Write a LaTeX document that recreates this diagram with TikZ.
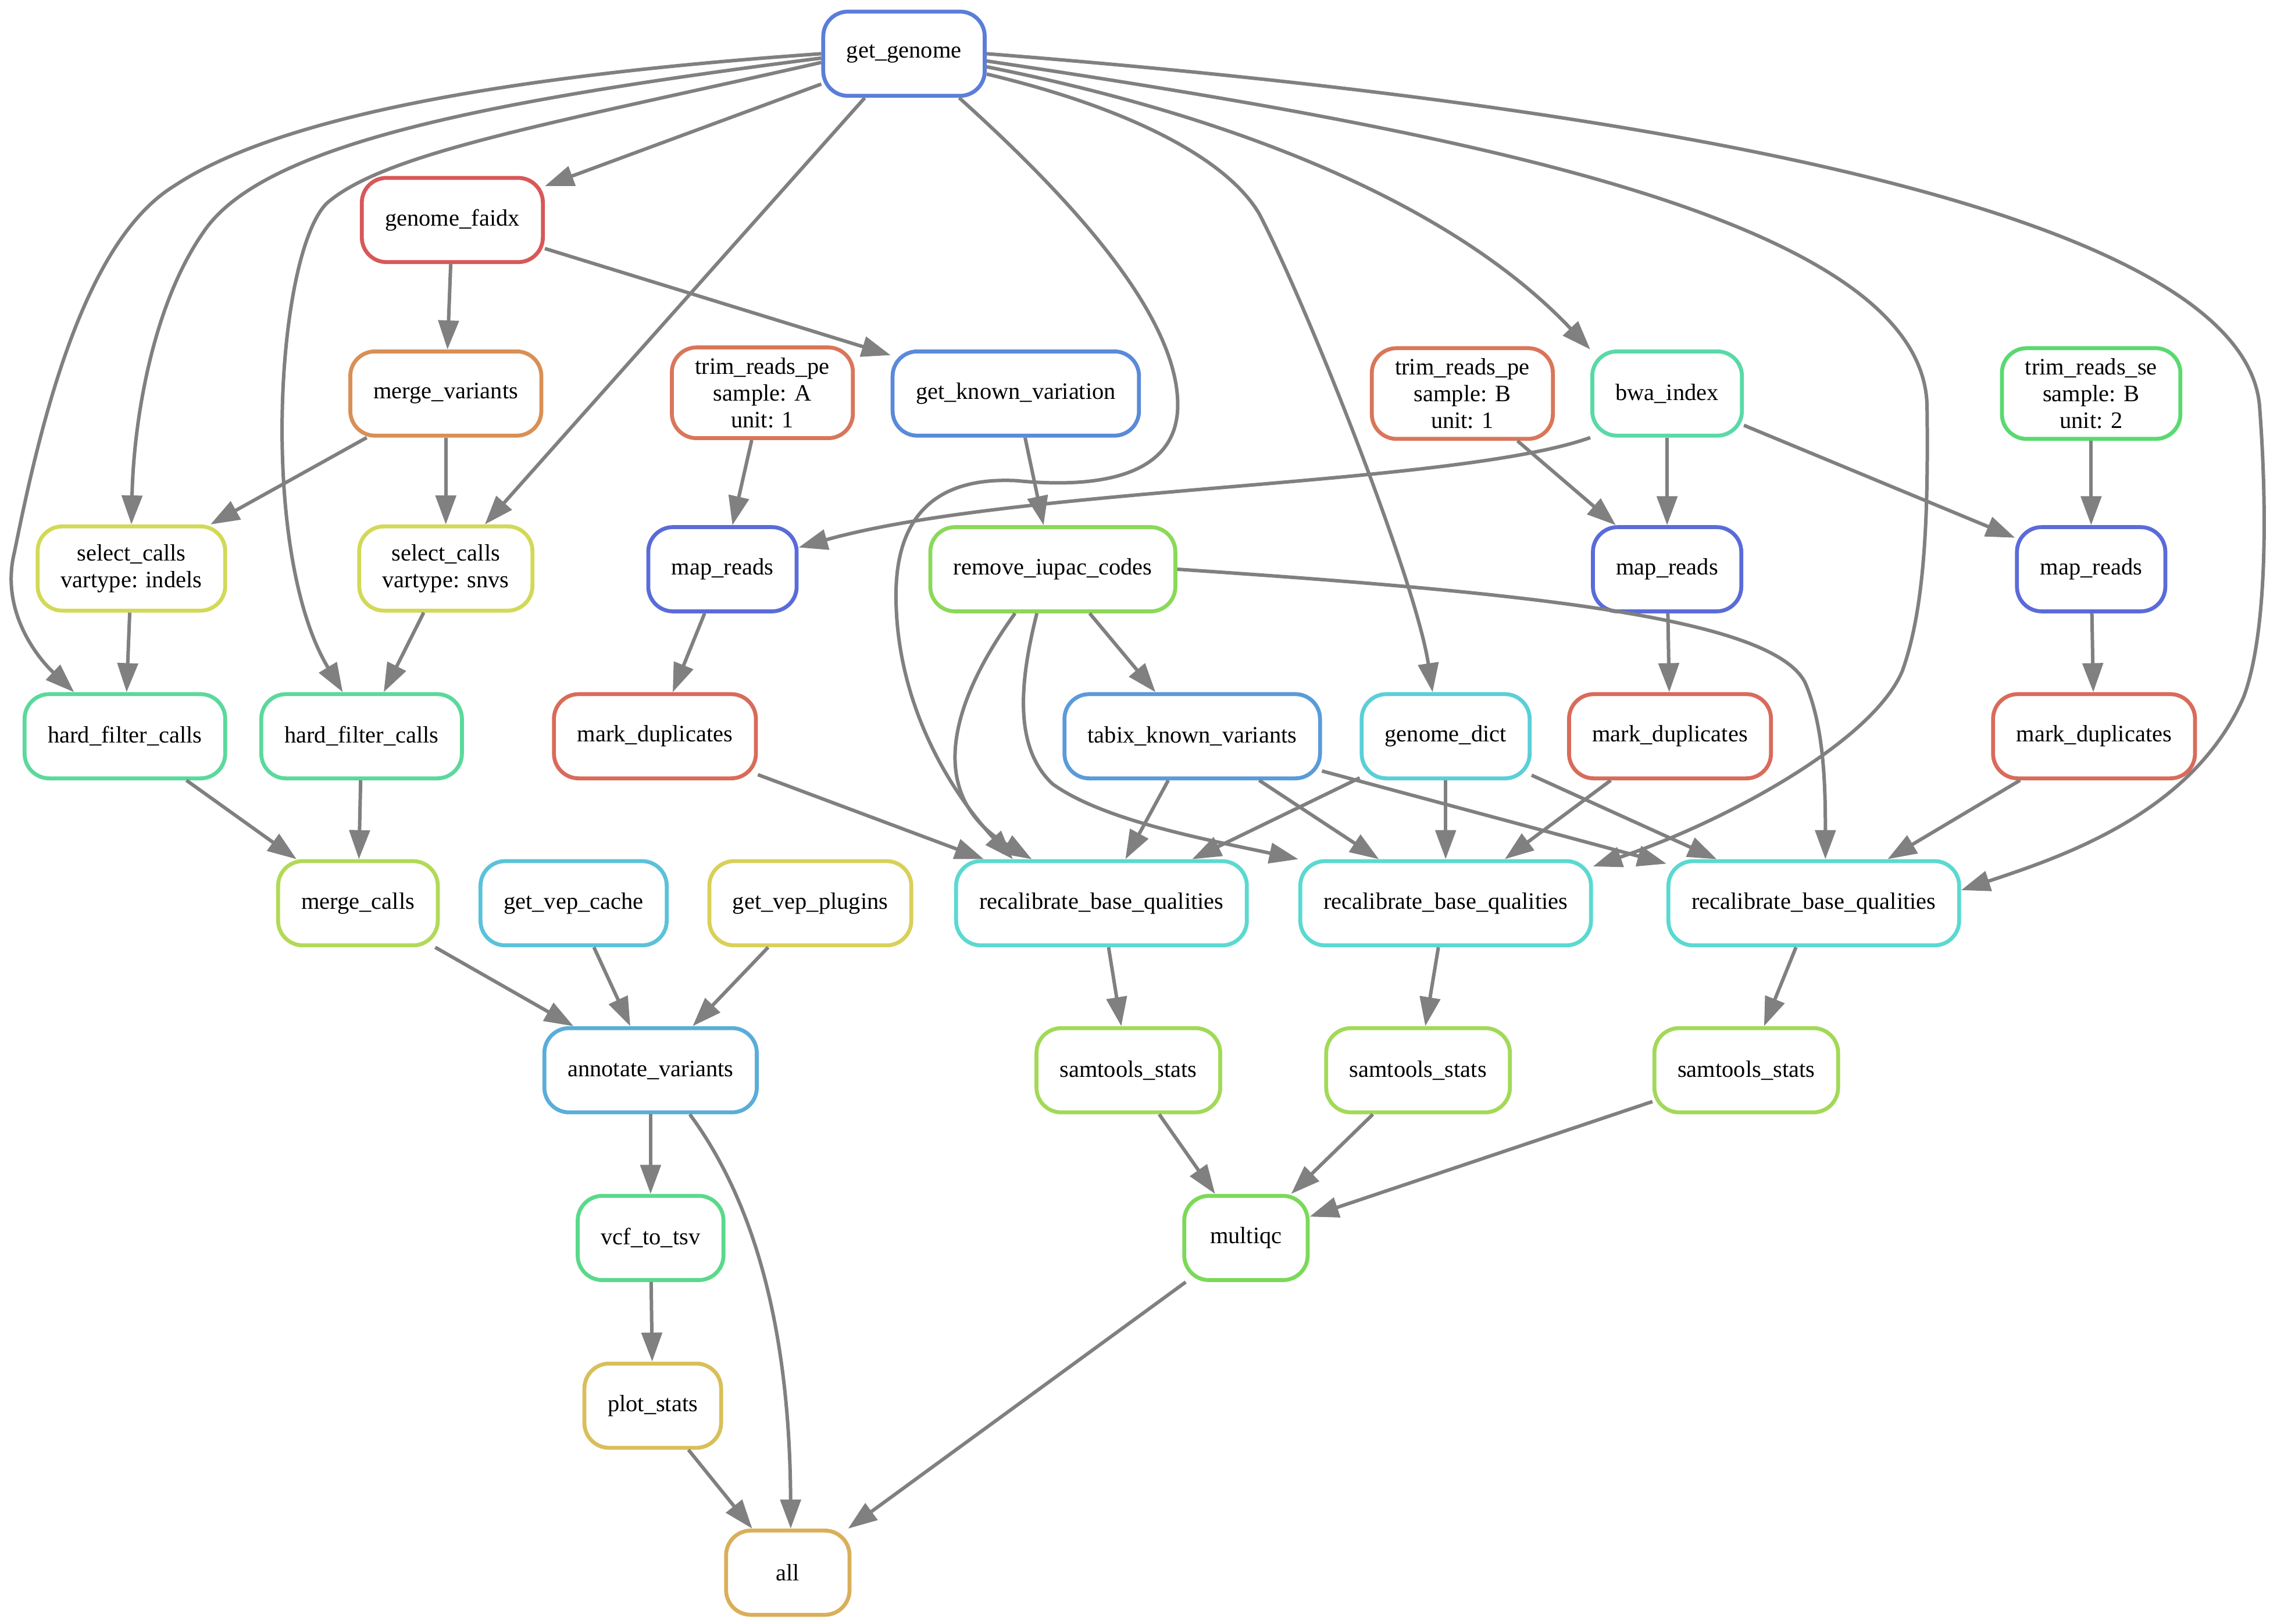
\documentclass[tikz,border=0pt]{standalone}
\usepackage{fontspec}
\setmainfont{Liberation Serif}
\usepackage{xcolor}
\usetikzlibrary{arrows.meta}
\definecolor{cgenome}{HTML}{5A7ED8}
\definecolor{cfaidx}{HTML}{D85858}
\definecolor{cmvar}{HTML}{D98F55}
\definecolor{ctrim}{HTML}{D9765A}
\definecolor{cknown}{HTML}{5A8AD9}
\definecolor{cbwa}{HTML}{5AD9A8}
\definecolor{ctrimse}{HTML}{5AD970}
\definecolor{cselect}{HTML}{D2D957}
\definecolor{cmap}{HTML}{5A6BD9}
\definecolor{ciupac}{HTML}{8AD957}
\definecolor{chard}{HTML}{5AD99C}
\definecolor{cmark}{HTML}{D96B5A}
\definecolor{ctabix}{HTML}{5A9BD9}
\definecolor{cdict}{HTML}{5ACFD9}
\definecolor{cmcalls}{HTML}{B2D957}
\definecolor{cvcache}{HTML}{5AC2D9}
\definecolor{cvplug}{HTML}{D9D05A}
\definecolor{crecal}{HTML}{5AD9D0}
\definecolor{cannot}{HTML}{5AADD9}
\definecolor{csam}{HTML}{A2D957}
\definecolor{cvcf}{HTML}{5AD98B}
\definecolor{cmqc}{HTML}{7BD957}
\definecolor{cplot}{HTML}{D9BF5A}
\definecolor{call}{HTML}{D9AF5A}
\definecolor{cgray}{HTML}{808080}

\begin{document}
\begin{tikzpicture}[x=1pt,y=-1pt,
  rulebox/.style={rectangle,rounded corners=17pt,draw,line width=2.7pt,fill=white,
              align=center,minimum height=58pt,minimum width=85pt,
              inner xsep=16pt,inner ysep=7pt,font=\fontsize{16.2}{18.5}\selectfont},
  ar/.style={-{Triangle[length=20pt,width=14pt]},line width=2.4pt,draw=cgray}]
\useasboundingbox (0,0) rectangle (1568,1118);
% rules
\node[rulebox,draw=cgenome] (gg)     at (622.5,37)  {get\_genome};
\node[rulebox,draw=cfaidx]  (faidx)  at (311.5,151.5) {genome\_faidx};
\node[rulebox,draw=cmvar]   (mvar)   at (307,271)   {merge\_variants};
\node[rulebox,draw=ctrim]   (trimA)  at (525,270.5) {trim\_reads\_pe\\sample: A\\unit: 1};
\node[rulebox,draw=cknown]  (gkv)    at (699.5,271) {get\_known\_variation};
\node[rulebox,draw=ctrim]   (trimB)  at (1007,271)  {trim\_reads\_pe\\sample: B\\unit: 1};
\node[rulebox,draw=cbwa]    (bwa)    at (1148,271)  {bwa\_index};
\node[rulebox,draw=ctrimse] (trimSE) at (1440,271)  {trim\_reads\_se\\sample: B\\unit: 2};
\node[rulebox,draw=cselect] (selI)   at (90.5,391.5) {select\_calls\\vartype: indels};
\node[rulebox,draw=cselect] (selS)   at (307,391.5) {select\_calls\\vartype: snvs};
\node[rulebox,draw=cmap]    (mapA)   at (497.5,392) {map\_reads};
\node[rulebox,draw=ciupac]  (iupac)  at (725,392)   {remove\_iupac\_codes};
\node[rulebox,draw=cmap]    (mapB)   at (1148,392)  {map\_reads};
\node[rulebox,draw=cmap]    (mapSE)  at (1440,392)  {map\_reads};
\node[rulebox,draw=chard]   (hfI)    at (86,507)    {hard\_filter\_calls};
\node[rulebox,draw=chard]   (hfS)    at (249,507)   {hard\_filter\_calls};
\node[rulebox,draw=cmark]   (mdA)    at (451,507)   {mark\_duplicates};
\node[rulebox,draw=ctabix]  (tabix)  at (821,507)   {tabix\_known\_variants};
\node[rulebox,draw=cdict]   (gdict)  at (995.5,507) {genome\_dict};
\node[rulebox,draw=cmark]   (mdB)    at (1150,507)  {mark\_duplicates};
\node[rulebox,draw=cmark]   (mdSE)   at (1442,507)  {mark\_duplicates};
\node[rulebox,draw=cmcalls] (mcalls) at (246.5,622) {merge\_calls};
\node[rulebox,draw=cvcache] (vcache) at (395,622)   {get\_vep\_cache};
\node[rulebox,draw=cvplug]  (vplug)  at (558,622)   {get\_vep\_plugins};
\node[rulebox,draw=crecal]  (recA)   at (758.5,622) {recalibrate\_base\_qualities};
\node[rulebox,draw=crecal]  (recB)   at (995.5,622) {recalibrate\_base\_qualities};
\node[rulebox,draw=crecal]  (recC)   at (1249,622)  {recalibrate\_base\_qualities};
\node[rulebox,draw=cannot]  (annot)  at (448,737)   {annotate\_variants};
\node[rulebox,draw=csam]    (ssA)    at (777,737)   {samtools\_stats};
\node[rulebox,draw=csam]    (ssB)    at (976.5,737) {samtools\_stats};
\node[rulebox,draw=csam]    (ssC)    at (1202.5,737) {samtools\_stats};
\node[rulebox,draw=cvcf]    (vcf)    at (448,852.5) {vcf\_to\_tsv};
\node[rulebox,draw=cmqc]    (mqc)    at (858,852.5) {multiqc};
\node[rulebox,draw=cplot]   (plot)   at (449.5,968) {plot\_stats};
\node[rulebox,draw=call]    (all)    at (542.5,1083) {all};
% get_genome fan-out
\draw[ar] (gg.west) .. controls (380,50) and (200,75) .. (120,128) .. controls (60,165) and (30,280) .. (10,380) .. controls (0,420) and (25,452) .. ([xshift=-35pt]hfI.north);
\draw[ar] ([yshift=-3pt]gg.west) .. controls (330,70) and (180,100) .. (140,160) .. controls (105,210) and (92,290) .. (selI.north);
\draw[ar] ([yshift=-6pt]gg.west) .. controls (380,85) and (265,105) .. (225,140) .. controls (190,175) and (178,380) .. ([xshift=-13pt]hfS.north);
\draw[ar] (gg) -- (faidx);
\draw[ar] (gg) -- (selS);
\draw[ar] ([xshift=38pt]gg.south) .. controls (730,130) and (812,215) .. (811,280) .. controls (810,335) and (740,335) .. (700,331) .. controls (640,328) and (617,360) .. (617,410) .. controls (617,480) and (650,540) .. ([xshift=-61pt]recA.north);
\draw[ar] ([yshift=-14pt]gg.east) .. controls (780,75) and (845,110) .. (867,147) .. controls (900,210) and (975,400) .. ([xshift=-9pt]gdict.north);
\draw[ar] ([yshift=-9pt]gg.east) .. controls (850,80) and (1000,140) .. (bwa.north west);
\draw[ar] ([yshift=-5pt]gg.east) .. controls (1000,90) and (1325,150) .. (1327,280) .. controls (1328,360) and (1325,420) .. (1310,462) .. controls (1290,510) and (1190,565) .. ([yshift=-5pt]recB.north east);
\draw[ar] (gg.east) .. controls (1100,70) and (1545,140) .. (1556,280) .. controls (1562,360) and (1560,440) .. (1545,480) .. controls (1510,560) and (1420,590) .. ([yshift=9pt]recC.east);
% variant calling
\draw[ar] (faidx) -- (mvar);
\draw[ar] (faidx) -- (gkv);
\draw[ar] (mvar) -- (selI);
\draw[ar] (mvar) -- (selS);
\draw[ar] (selI) -- (hfI);
\draw[ar] (selS) -- (hfS);
\draw[ar] (hfI) -- (mcalls);
\draw[ar] (hfS) -- (mcalls);
\draw[ar] (mcalls) -- (annot);
\draw[ar] (vcache) -- (annot);
\draw[ar] (vplug) -- (annot);
\draw[ar] (annot) -- (vcf);
\draw[ar] (vcf) -- (plot);
\draw[ar] (plot) -- (all);
\draw[ar] ([xshift=27pt]annot.south) .. controls (525,835) and (544,930) .. ([xshift=2pt]all.north);
\draw[ar] (mqc) -- (all);
% mapping and qc
\draw[ar] (trimA) -- (mapA);
\draw[ar] (bwa.south west) .. controls (1000,335) and (700,335) .. ([yshift=15pt]mapA.east);
\draw[ar] (bwa) -- (mapB);
\draw[ar] (bwa) -- (mapSE);
\draw[ar] (trimB) -- (mapB);
\draw[ar] (trimSE) -- (mapSE);
\draw[ar] (mapA) -- (mdA);
\draw[ar] (mapB) -- (mdB);
\draw[ar] (mapSE) -- (mdSE);
\draw[ar] (mdA) -- (recA);
\draw[ar] (mdB) -- (recB);
\draw[ar] (mdSE) -- (recC);
\draw[ar] (gkv) -- (iupac);
\draw[ar] (iupac) -- (tabix);
\draw[ar] ([xshift=-26pt]iupac.south) .. controls (650,490) and (640,550) .. ([xshift=-48pt]recA.north);
\draw[ar] ([xshift=-11pt]iupac.south) .. controls (702,470) and (698,515) .. (725,540) .. controls (760,565) and (830,578) .. (recB.north west);
\draw[ar] (iupac.east) .. controls (1050,408) and (1220,425) .. (1243,470) .. controls (1256,500) and (1257,540) .. ([xshift=8pt]recC.north);
\draw[ar] (tabix) -- (recA);
\draw[ar] (tabix) -- (recB);
\draw[ar] (tabix) -- (recC);
\draw[ar] (gdict) -- (recA);
\draw[ar] (gdict) -- (recB);
\draw[ar] (gdict) -- (recC);
\draw[ar] (recA) -- (ssA);
\draw[ar] (recB) -- (ssB);
\draw[ar] (recC) -- (ssC);
\draw[ar] (ssA) -- (mqc);
\draw[ar] (ssB) -- (mqc);
\draw[ar] (ssC) -- (mqc);
\end{tikzpicture}
\end{document}
